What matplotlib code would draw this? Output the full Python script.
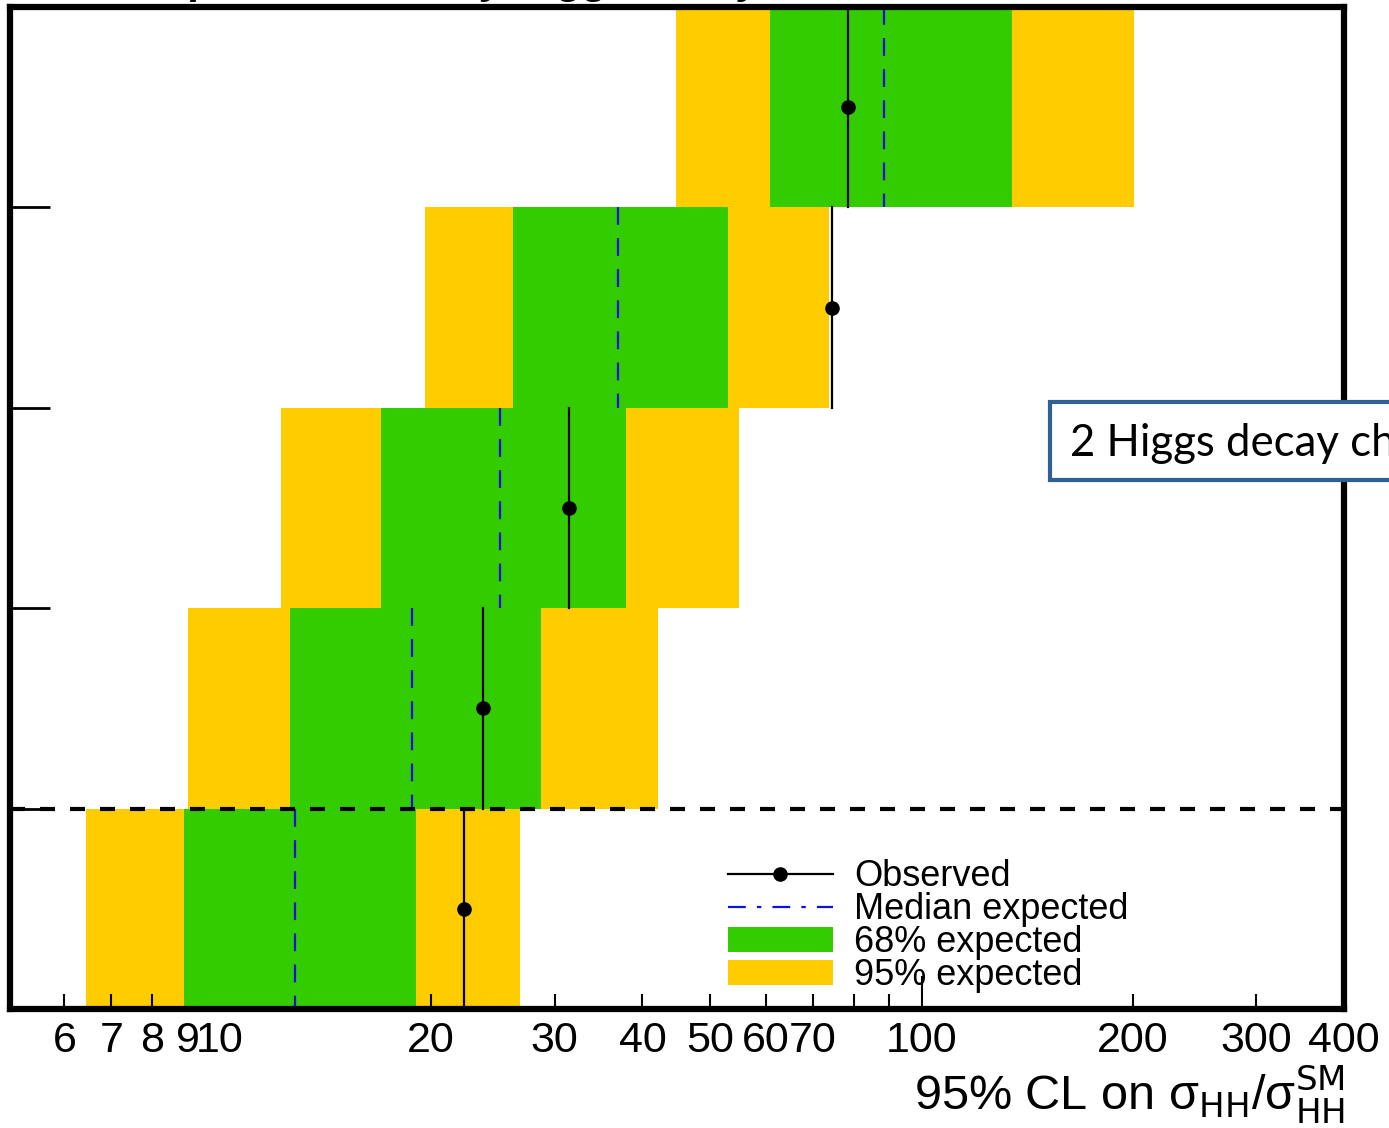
import numpy as np
import matplotlib
matplotlib.use("Agg")
import matplotlib.pyplot as plt
from matplotlib.lines import Line2D
from matplotlib.patches import Patch, Rectangle

# limits per row, bottom row first (row labels are cut off in the source)
rows = np.arange(5)
yellow_lo = [6.44, 9.0, 12.2, 19.6, 44.6]
green_lo = [8.89, 12.6, 16.95, 26.2, 60.9]
green_hi = [19.0, 28.7, 37.9, 52.9, 134.4]
yellow_hi = [26.8, 42.1, 54.9, 73.9, 201.0]
median = [12.8, 18.8, 25.1, 36.9, 88.5]
observed = [22.3, 23.7, 31.4, 74.5, 78.5]

x_major = [10, 100]
x_minor = [6, 7, 8, 9, 20, 30, 40, 50, 60, 70, 80, 90, 200, 300, 400]
minor_labels = ["6", "7", "8", "9", "20", "30", "40", "50", "60", "70", "", "", "200", "300", "400"]
row_edges = [0.5, 1.5, 2.5, 3.5]

legend_labels = ["Observed", "Median expected", "68% expected", "95% expected"]

YELLOW = "#ffcc00"
GREEN = "#33cc00"
BLUE = "#1010dd"
sans = ["Liberation Sans", "DejaVu Sans"]

fig = plt.figure(figsize=(13.89, 11.28), dpi=100)
W, H = 1389, 1128
ax = fig.add_axes([10 / W, 1 - 1009 / H, (1344 - 10) / W, (1009 - 7) / H])

ax.set_xscale("log")
ax.set_xlim(5.02, 400)
ax.set_ylim(-0.5, 4.5)

ax.barh(rows, np.subtract(yellow_hi, yellow_lo), left=yellow_lo, height=1.0, color=YELLOW, lw=0, zorder=1)
ax.barh(rows, np.subtract(green_hi, green_lo), left=green_lo, height=1.0, color=GREEN, lw=0, zorder=2)

for r, m, o in zip(rows, median, observed):
    ax.plot([m, m], [r + 0.5, r - 0.5], color=BLUE, lw=1.6, ls=(0, (8, 6)), zorder=3)
    ax.plot([o, o], [r - 0.5, r + 0.5], color="black", lw=1.6, zorder=4)
ax.plot(observed, rows, "o", color="black", ms=9.5, zorder=5)

ax.axhline(row_edges[0], color="black", lw=3, ls=(0, (3.6, 3.6)), zorder=6)

for s in ax.spines.values():
    s.set_linewidth(4.5)
    s.set_zorder(10)

ax.set_yticks(row_edges)
ax.set_yticklabels([])
ax.tick_params(axis="y", direction="in", length=29, width=2, right=False)

ax.set_xticks(x_major)
ax.set_xticklabels(["10", "100"])
ax.set_xticks(x_minor, minor=True)
ax.set_xticklabels(minor_labels, minor=True)
ax.tick_params(axis="x", which="major", direction="in", length=24, width=1.5, pad=9)
ax.tick_params(axis="x", which="minor", direction="in", length=11, width=1.5, pad=9)
for lab in ax.get_xticklabels(which="both"):
    lab.set_fontfamily(sans)
    lab.set_fontsize(31)

handles = [
    Line2D([], [], color="black", lw=1.6, marker="o", ms=9.5),
    Line2D([], [], color=BLUE, lw=1.6, ls=(0, (8, 5, 2, 5))),
    Patch(facecolor=GREEN, edgecolor="none"),
    Patch(facecolor=YELLOW, edgecolor="none"),
]
leg = ax.legend(handles, legend_labels, loc="lower left", bbox_to_anchor=((728 - 10) / 1334, (1009 - 993) / 1002),
                frameon=False, borderpad=0, borderaxespad=0, handlelength=2.9, handleheight=0.7,
                handletextpad=0.6, labelspacing=-0.06, prop={"family": sans, "size": 26})
leg.set_zorder(8)

fig.text(1345 / W, 1 - 1110 / H, "95% CL on σ$_{\\mathrm{HH}}$/σ$_{\\mathrm{HH}}^{\\mathrm{SM}}$",
         ha="right", va="baseline", fontsize=35, family=sans)

# title above, mostly cut off by the crop
fig.text(140 / W, 1 + 7 / H, "Expected limits by Higgs decay channel", ha="left", va="baseline",
         fontsize=30, fontweight="bold", fontstyle="italic", family=sans)

# annotation box running off the right edge
fig.add_artist(Rectangle((1050 / W, 1 - 480 / H), 500 / W, 78 / H, transform=fig.transFigure,
                         facecolor="white", edgecolor="#2e5f96", lw=3, zorder=20))
fig.text(1070 / W, 1 - 443 / H, "2 Higgs decay channels", ha="left", va="center",
         fontsize=31.5, family=["Lato", "Open Sans", "DejaVu Sans"], zorder=21)

fig.savefig("out.png", dpi=100)
